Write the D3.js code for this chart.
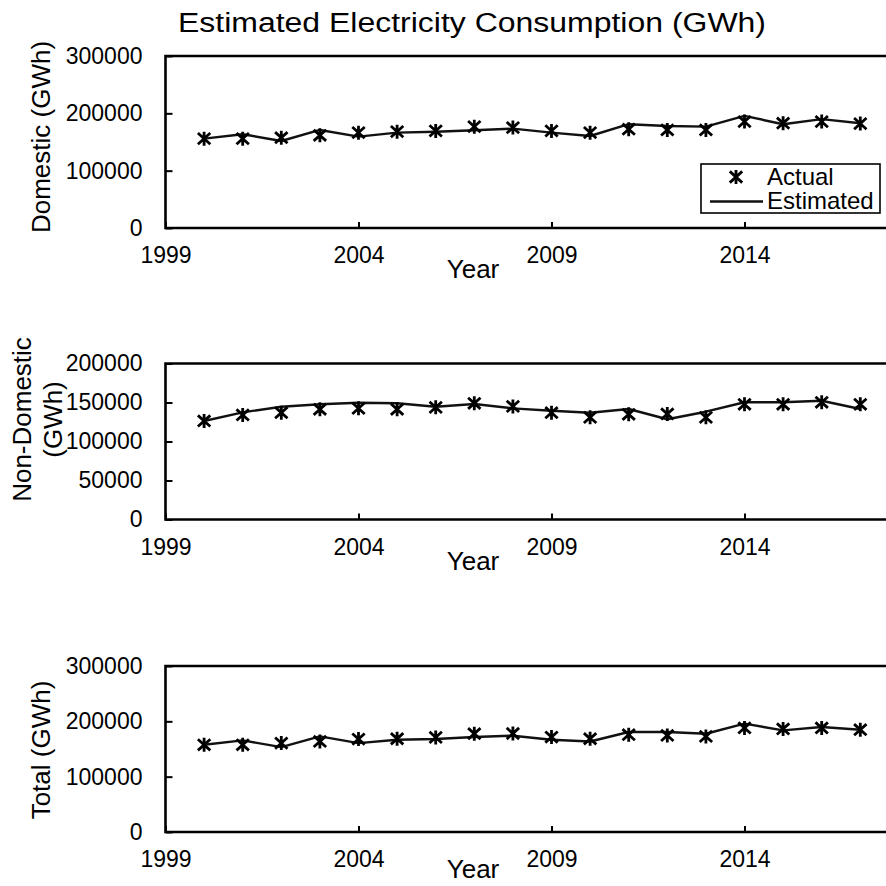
<!DOCTYPE html>
<html>
<head>
<meta charset="utf-8">
<script src="https://cdn.jsdelivr.net/npm/d3@7"></script>
<style>
  html, body { margin: 0; padding: 0; background: #fff; }
  svg { display: block; font-family: "Liberation Sans", Arial, sans-serif; }
</style>
</head>
<body>
<svg id="chart" width="886" height="886"></svg>
<script>
// ---- data ----
const years = [2000, 2001, 2002, 2003, 2004, 2005, 2006, 2007, 2008,
               2009, 2010, 2011, 2012, 2013, 2014, 2015, 2016, 2017];

const domesticActual    = [155800, 155800, 157500, 161700, 166300, 168000, 169300, 176800, 175100,
                           169300, 166300, 172300, 171000, 171000, 185600, 182800, 185600, 182100];
const domesticEstimated = [155800, 163500, 151700, 171000, 159300, 166300, 168000, 170500, 173300,
                           166300, 160500, 181000, 178000, 176800, 195600, 181000, 189800, 182800];

const nonDomesticActual    = [126300, 134000, 136900, 141300, 142500, 141300, 143800, 149000, 145000,
                              136900, 131000, 134900, 135300, 131000, 147700, 147700, 150300, 147700];
const nonDomesticEstimated = [126300, 137400, 144600, 147700, 149700, 149000, 144600, 148000, 142500,
                              139500, 136900, 141700, 128500, 138200, 150300, 150300, 152300, 141700];

const totalActual    = [157600, 157600, 160700, 163600, 168000, 168500, 170900, 177600, 178000,
                        171600, 168500, 175800, 174500, 172700, 188000, 186200, 188000, 184900];
const totalEstimated = [157600, 165500, 153400, 172700, 160700, 166700, 168000, 171600, 174000,
                        166700, 163600, 180700, 180700, 177600, 195800, 183600, 189800, 184900];

const xTickValues = [1999, 2004, 2009, 2014];
const yTicksDomestic = [0, 100000, 200000, 300000];
const yTicksNonDomestic = [0, 50000, 100000, 150000, 200000];
const yTicksTotal = [0, 100000, 200000, 300000];

const titleText = "Estimated Electricity Consumption (GWh)";
const legendLabels = ["Actual", "Estimated"];

// ---- drawing ----
const svg = d3.select("#chart");
const W = 886;
const INK = "#000";

const x = d3.scaleLinear().domain([1999, 2019]).range([165.5, 937.5]);

svg.append("text")
  .attr("x", 178).attr("y", 31.5)
  .attr("font-size", 27)
  .attr("textLength", 588)
  .attr("lengthAdjust", "spacingAndGlyphs")
  .attr("fill", INK)
  .text(titleText);

function star(g, cx, cy) {
  const r = 7, dx = 6.2, dy = 5.6;
  const p = `M${cx},${cy - r}L${cx},${cy + r}` +
            `M${cx - dx},${cy - dy}L${cx + dx},${cy + dy}` +
            `M${cx - dx},${cy + dy}L${cx + dx},${cy - dy}`;
  g.append("path").attr("d", p).attr("stroke", INK)
    .attr("stroke-width", 2.8).attr("fill", "none").attr("stroke-linecap", "butt");
}

function panel(cfg) {
  const { top, bottom, yMax, yTicks, actual, estimated, labelLines, labelCY, labelX, yearY } = cfg;
  const y = d3.scaleLinear().domain([0, yMax]).range([bottom, top]);
  const g = svg.append("g");

  // y axis (ticks inward)
  const ya = g.append("g").attr("transform", `translate(${x(1999)},0)`)
    .call(d3.axisLeft(y).tickValues(yTicks).tickSize(-7).tickPadding(23).tickFormat(d3.format("d")));
  ya.select(".domain").remove();
  ya.selectAll(".tick line").attr("stroke", INK).attr("stroke-width", 2);
  ya.selectAll(".tick text").attr("font-size", 23).attr("fill", INK)
    .attr("font-family", "Liberation Sans, Arial, sans-serif");

  // x axis (ticks inward)
  const xa = g.append("g").attr("transform", `translate(0,${bottom})`)
    .call(d3.axisBottom(x).tickValues(xTickValues).tickSize(-6).tickFormat(d3.format("d")));
  xa.select(".domain").remove();
  xa.selectAll(".tick line").attr("stroke", INK).attr("stroke-width", 2);
  xa.selectAll(".tick text").attr("font-size", 23).attr("fill", INK)
    .attr("font-family", "Liberation Sans, Arial, sans-serif")
    .attr("y", 35).attr("dy", 0);

  // frame: left, bottom, top (right edge runs off the picture)
  g.append("path")
    .attr("d", `M${W + 2},${top}L${x(1999)},${top}L${x(1999)},${bottom}L${W + 2},${bottom}`)
    .attr("fill", "none").attr("stroke", INK).attr("stroke-width", 2.6);

  // estimated line
  const line = d3.line().x((d, i) => x(years[i])).y(d => y(d));
  g.append("path").datum(estimated).attr("d", line)
    .attr("fill", "none").attr("stroke", "#111").attr("stroke-width", 2.4)
    .attr("stroke-linejoin", "round");

  // actual markers
  actual.forEach((v, i) => star(g, x(years[i]), y(v)));

  // x label
  g.append("text").attr("x", 473).attr("y", yearY)
    .attr("text-anchor", "middle").attr("font-size", 26).attr("fill", INK).text("Year");

  // y label (rotated)
  labelLines.forEach((t, k) => {
    g.append("text")
      .attr("transform", `translate(${labelX[k]},${labelCY}) rotate(-90)`)
      .attr("text-anchor", "middle").attr("font-size", 26).attr("fill", INK).text(t);
  });
  return { g, y };
}

panel({ top: 56, bottom: 228, yMax: 300000, yTicks: yTicksDomestic,
  actual: domesticActual, estimated: domesticEstimated,
  labelLines: ["Domestic (GWh)"], labelCY: 137, labelX: [50], yearY: 278 });

panel({ top: 363.5, bottom: 519.5, yMax: 200000, yTicks: yTicksNonDomestic,
  actual: nonDomesticActual, estimated: nonDomesticEstimated,
  labelLines: ["Non-Domestic", "(GWh)"], labelCY: 419.5, labelX: [31, 62], yearY: 570 });

panel({ top: 666, bottom: 832, yMax: 300000, yTicks: yTicksTotal,
  actual: totalActual, estimated: totalEstimated,
  labelLines: ["Total (GWh)"], labelCY: 750, labelX: [50], yearY: 878 });

// legend (top panel)
const lg = svg.append("g");
lg.append("rect").attr("x", 701).attr("y", 164).attr("width", 179).attr("height", 49)
  .attr("fill", "#fff").attr("stroke", INK).attr("stroke-width", 1.6);
star(lg, 736, 177);
lg.append("line").attr("x1", 710).attr("x2", 763).attr("y1", 201.5).attr("y2", 201.5)
  .attr("stroke", "#111").attr("stroke-width", 2.3);
lg.append("text").attr("x", 767).attr("y", 184.5).attr("font-size", 24).attr("fill", INK).text(legendLabels[0]);
lg.append("text").attr("x", 767).attr("y", 209).attr("font-size", 24).attr("fill", INK).text(legendLabels[1]);
</script>
</body>
</html>
